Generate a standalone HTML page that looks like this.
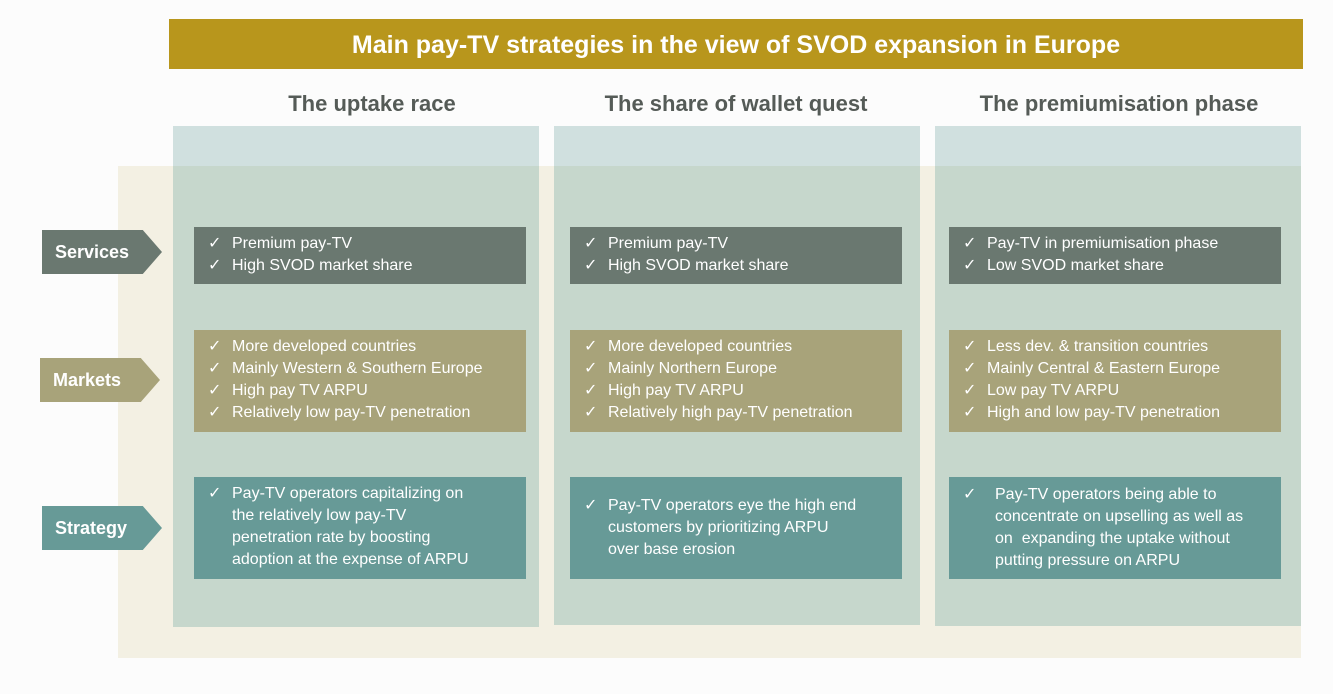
<!DOCTYPE html>
<html><head><meta charset="utf-8"><style>
body{margin:0;width:1333px;height:694px;background:#fcfcfc;position:relative;overflow:hidden;font-family:"Liberation Sans",sans-serif}
div{position:absolute;box-sizing:border-box}
.title{left:169px;top:19px;width:1134px;height:50px;background:#b8961c;color:#fff;font-weight:bold;font-size:25px;text-align:center;line-height:52px}
.bg{left:118px;top:166px;width:1183px;height:492px;background:#f3f0e3}
.col{top:126px;width:366px;height:501px;background:#c6d7cc}
.col .cap{position:absolute;left:0;top:0;width:100%;height:40px;background:#d0e0df}
.h{top:91px;width:420px;text-align:center;font-size:22px;font-weight:bold;color:#555b57}
.box{color:#fff;font-size:16px;line-height:22px;padding:6px 0 0 14px;white-space:nowrap}
.box p{margin:0;padding-left:24px;position:relative}
.box p:before{content:"✓";position:absolute;left:0}
.s{background:#6a7870;top:227px;height:57px}
.m{background:#a8a37a;top:330px;height:102px}
.t{background:#679a97;top:477px;height:102px;padding-top:6px}
.lab{width:120px;height:44px;color:#fff;font-weight:bold;font-size:18px;line-height:44px;padding-left:13px;clip-path:polygon(0 0,84% 0,100% 50%,84% 100%,0 100%)}
</style></head><body>
<div class="title">Main pay-TV strategies in the view of SVOD expansion in Europe</div>
<div class="bg"></div>
<div class="col" style="left:173px"><div class="cap"></div></div>
<div class="col" style="left:554px;height:499px"><div class="cap"></div></div>
<div class="col" style="left:935px;height:500px"><div class="cap"></div></div>
<div class="h" style="left:162px">The uptake race</div>
<div class="h" style="left:526px">The share of wallet quest</div>
<div class="h" style="left:909px">The premiumisation phase</div>
<div class="lab" style="left:42px;top:230px;background:#6a7870">Services</div>
<div class="lab" style="left:40px;top:358px;background:#a8a37a">Markets</div>
<div class="lab" style="left:42px;top:506px;background:#679a97">Strategy</div>

<div class="box s" style="left:194px;width:332px"><p>Premium pay-TV</p><p>High SVOD market share</p></div>
<div class="box s" style="left:570px;width:332px"><p>Premium pay-TV</p><p>High SVOD market share</p></div>
<div class="box s" style="left:949px;width:332px"><p>Pay-TV in premiumisation phase</p><p>Low SVOD market share</p></div>

<div class="box m" style="left:194px;width:332px"><p>More developed countries</p><p>Mainly Western &amp; Southern Europe</p><p>High pay TV ARPU</p><p>Relatively low pay-TV penetration</p></div>
<div class="box m" style="left:570px;width:332px"><p>More developed countries</p><p>Mainly Northern Europe</p><p>High pay TV ARPU</p><p>Relatively high pay-TV penetration</p></div>
<div class="box m" style="left:949px;width:332px"><p>Less dev. &amp; transition countries</p><p>Mainly Central &amp; Eastern Europe</p><p>Low pay TV ARPU</p><p>High and low pay-TV penetration</p></div>

<div class="box t" style="left:194px;width:332px"><p>Pay-TV operators capitalizing on<br>the relatively low pay-TV<br>penetration rate by boosting<br>adoption at the expense of ARPU</p></div>
<div class="box t" style="left:570px;width:332px;padding-top:18px"><p>Pay-TV operators eye the high end<br>customers by prioritizing ARPU<br>over base erosion</p></div>
<div class="box t" style="left:949px;width:332px;padding-top:7px"><p style="padding-left:32px">Pay-TV operators being able to<br>concentrate on upselling as well as<br>on&nbsp; expanding the uptake without<br>putting pressure on ARPU</p></div>
</body></html>
